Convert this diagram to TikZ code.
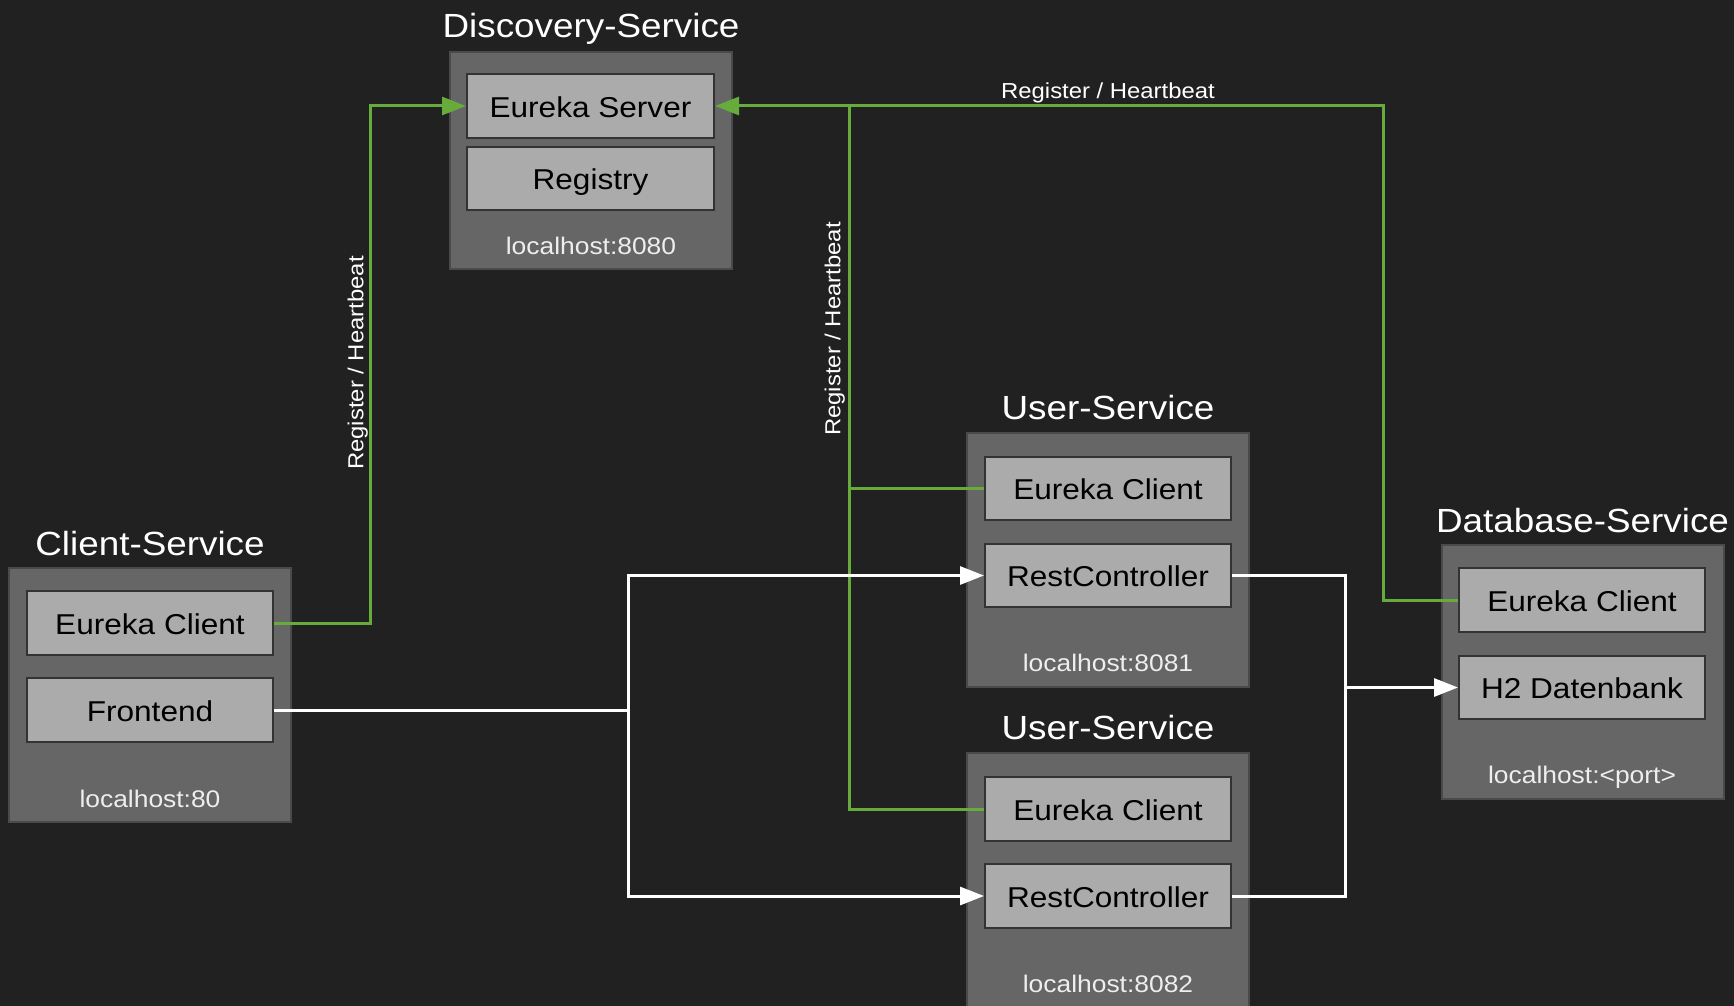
\documentclass[tikz,border=0pt]{standalone}
\usepackage{fontspec}
\setmainfont{Liberation Sans}[FakeStretch=1.1]
\usetikzlibrary{arrows.meta}
\definecolor{bg}{HTML}{212121}
\definecolor{outerfill}{HTML}{666666}
\definecolor{outerline}{HTML}{4A4A4A}
\definecolor{compfill}{HTML}{ABABAB}
\definecolor{compline}{HTML}{333333}
\definecolor{eureka}{HTML}{66AB3C}
\definecolor{hosttext}{HTML}{EEEEEE}
\begin{document}
\begin{tikzpicture}[x=1pt,y=-1pt,
 outerbox/.style={draw=outerline, fill=outerfill, line width=2pt, minimum width=282pt, minimum height=254pt, inner sep=0pt},
 comp/.style={draw=compline, fill=compfill, line width=2pt, minimum width=246pt, minimum height=63pt, inner sep=0pt, text=black, font=\fontsize{28.7}{34}\selectfont, text height=22.5pt, text depth=0pt},
 title/.style={text=white, font=\fontsize{33.5}{40}\selectfont, inner sep=0pt, text height=24pt, text depth=0pt},
 host/.style={text=hosttext, font=\fontsize{24}{28}\selectfont, inner sep=0pt, text height=21pt, text depth=0pt},
 lbl/.style={text=white, font=\fontsize{21.7}{26}\selectfont, inner sep=0pt, text height=16.5pt, text depth=0pt},
 greenline/.style={draw=eureka, line width=3pt},
 whiteline/.style={draw=white, line width=3pt},
 tip/.style={-{Triangle[length=24pt,width=18pt]}},
]
\fill[bg] (0,0) rectangle (1734,1006);
\useasboundingbox (0,0) rectangle (1734,1006);

% Discovery-Service
\node[outerbox, minimum height=217pt] (disc) at (591,160.5) {};
\node[title] (disct) at (591,26) {Discovery-Service};
\node[comp, minimum width=247pt, minimum height=64pt] (es) at (590.5,106) {Eureka Server};
\node[comp, minimum width=247pt] (reg) at (590.5,178.5) {Registry};
\node[host] (disch) at (591,244) {localhost:8080};

% Client-Service
\node[outerbox] (cli) at (150,695) {};
\node[title] (clit) at (150,543) {Client-Service};
\node[comp, minimum height=64pt] (cec) at (150,623) {Eureka Client};
\node[comp, minimum height=64pt] (fe) at (150,710) {Frontend};
\node[host] (clih) at (150,796.5) {localhost:80};

% User-Service 1
\node[outerbox] (us1) at (1108,560) {};
\node[title] (us1t) at (1108,407) {User-Service};
\node[comp] (u1ec) at (1108,488.5) {Eureka Client};
\node[comp] (u1rc) at (1108,575.5) {RestController};
\node[host] (us1h) at (1108,661) {localhost:8081};

% User-Service 2
\node[outerbox] (us2) at (1108,880) {};
\node[title] (us2t) at (1108,727) {User-Service};
\node[comp, minimum height=64pt] (u2ec) at (1108,809) {Eureka Client};
\node[comp, minimum height=64pt] (u2rc) at (1108,896) {RestController};
\node[host] (us2h) at (1108,982) {localhost:8082};

% Database-Service
\node[outerbox] (db) at (1582.5,672) {};
\node[title] (dbt) at (1582.5,520) {Database-Service};
\node[comp, minimum height=64pt] (dbec) at (1582,600) {Eureka Client};
\node[comp] (h2) at (1582,687.5) {H2 Datenbank};
\node[host] (dbh) at (1582,772.5) {localhost:<port>};

% routing coordinates
\coordinate (gx1) at (370,0);
\coordinate (gx2) at (849,0);
\coordinate (gx3) at (1383,0);
\coordinate (wx1) at (628,0);
\coordinate (wx2) at (1345,0);

% green register / heartbeat lines
\draw[greenline, tip] (cec.east) -| (gx1 |- es.west) -- (es.west);
\draw[greenline, tip] (dbec.west) -| (gx3 |- es.east) -- (es.east);
\draw[greenline] (u2ec.west) -| (gx2 |- es.east);
\draw[greenline] (u1ec.west) -- (u1ec.west -| gx2);

\node[lbl, rotate=90] (l1) at (355,363) {Register / Heartbeat};
\node[lbl, rotate=90] (l2) at (832,329) {Register / Heartbeat};
\node[lbl] (l3) at (1108,90) {Register / Heartbeat};

% white request lines
\draw[whiteline, tip] (fe.east) -| (wx1 |- u1rc.west) -- (u1rc.west);
\draw[whiteline, tip] (fe.east) -| (wx1 |- u2rc.west) -- (u2rc.west);
\draw[whiteline, tip] (u1rc.east) -| (wx2 |- h2.west) -- (h2.west);
\draw[whiteline] (u2rc.east) -| (wx2 |- h2.west);
\end{tikzpicture}
\end{document}
